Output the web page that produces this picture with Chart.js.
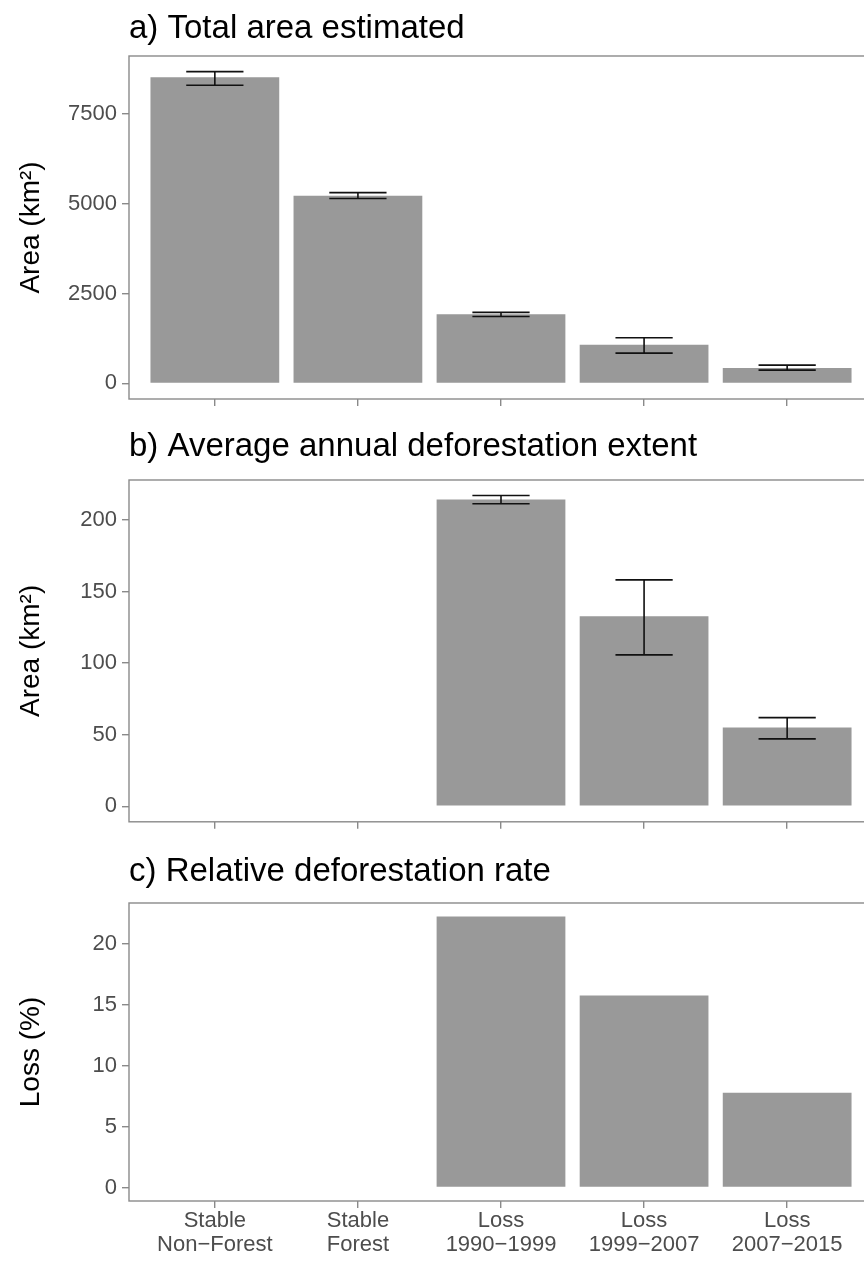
<!DOCTYPE html>
<html lang="en">
<head>
<meta charset="UTF-8">
<title>Deforestation estimates</title>
<script src="https://cdn.jsdelivr.net/npm/chart.js"></script>
<style>
  body { margin: 0; background: #fff; overflow: hidden; width: 864px; height: 1261px; position: relative; }
  canvas { position: absolute; left: 0; }
</style>
</head>
<body>
<canvas id="panelA" width="880" height="420" style="top:0px"></canvas>
<canvas id="panelB" width="880" height="420" style="top:420px"></canvas>
<canvas id="panelC" width="880" height="421" style="top:840px"></canvas>
<script>
// categories on the x axis (two-line labels)
const categories = [
    ["Stable", "Non\u2212Forest"],
    ["Stable", "Forest"],
    ["Loss", "1990\u22121999"],
    ["Loss", "1999\u22122007"],
    ["Loss", "2007\u22122015"]
];

// a) total area estimated (km2) with confidence limits
const totalArea = [8510, 5220, 1920, 1075, 425];
const totalLow  = [8290, 5140, 1860, 842, 370];
const totalHigh = [8670, 5305, 1975, 1269, 508];
const totalTicks = [0, 2500, 5000, 7500];

// b) average annual deforestation extent (km2)
const annualArea = [null, null, 214.4, 132.8, 55];
const annualLow  = [null, null, 211.4, 105.8, 47.1];
const annualHigh = [null, null, 217.1, 158.2, 61.9];
const annualTicks = [0, 50, 100, 150, 200];

// c) relative deforestation rate (%)
const relLoss = [null, null, 22.26, 15.77, 7.79];
const relTicks = [0, 5, 10, 15, 20];

Chart.defaults.font.family = "'Liberation Sans', Arial, sans-serif";

const frameColor = '#8a8a8a';

// grey border round the panel, like ggplot's theme
const panelFrame = {
    id: 'panelFrame',
    afterDraw(chart) {
        const a = chart.chartArea;
        const ctx = chart.ctx;
        ctx.save();
        ctx.strokeStyle = frameColor;
        ctx.lineWidth = 1.4;
        ctx.strokeRect(a.left, a.top, a.right - a.left, a.bottom - a.top);
        ctx.restore();
    }
};

// error bars drawn with the chart's own scales
const errorBars = {
    id: 'errorBars',
    afterDatasetsDraw(chart, args, opts) {
        if (!opts.low || !opts.high) return;
        const xs = chart.scales.x, ys = chart.scales.y;
        const ctx = chart.ctx;
        ctx.save();
        ctx.strokeStyle = '#111';
        ctx.lineWidth = 1.6;
        opts.low.forEach((lo, i) => {
            const hi = opts.high[i];
            if (lo == null || hi == null) return;
            const x = xs.getPixelForValue(i + 1);
            const half = xs.getPixelForValue(i + 1.2) - x;
            const yLo = ys.getPixelForValue(lo);
            const yHi = ys.getPixelForValue(hi);
            ctx.beginPath();
            ctx.moveTo(x - half, yHi); ctx.lineTo(x + half, yHi);
            ctx.moveTo(x - half, yLo); ctx.lineTo(x + half, yLo);
            ctx.moveTo(x, yHi); ctx.lineTo(x, yLo);
            ctx.stroke();
        });
        ctx.restore();
    }
};

function makePanel(id, cfg) {
    const points = cfg.values.map((v, i) => ({ x: i + 1, y: v }));
    const top = Math.max(...cfg.values.concat(cfg.high || []).filter(v => v != null));
    return new Chart(document.getElementById(id), {
        type: 'bar',
        data: {
            datasets: [{
                data: points,
                backgroundColor: '#999999',
                borderWidth: 0,
                barPercentage: 0.9,
                categoryPercentage: 1
            }]
        },
        options: {
            responsive: false,
            animation: false,
            layout: { padding: { left: 0, right: 7, top: 0, bottom: 0 } },
            plugins: {
                legend: { display: false },
                tooltip: { enabled: false },
                title: {
                    display: true,
                    text: cfg.title,
                    align: 'start',
                    fullSize: false,
                    color: '#000',
                    font: { size: 33, weight: 'normal', lineHeight: 1.2 },
                    padding: cfg.titlePad
                },
                errorBars: { low: cfg.low, high: cfg.high }
            },
            scales: {
                x: {
                    type: 'linear',
                    min: 0.4,
                    max: 5.6,
                    offset: false,
                    afterBuildTicks: s => { s.ticks = categories.map((c, i) => ({ value: i + 1 })); },
                    afterFit: s => { s.height = cfg.xHeight; },
                    grid: { offset: false, drawOnChartArea: false, drawTicks: true, tickLength: 7, color: frameColor, lineWidth: 1.4 },
                    border: { display: false },
                    ticks: {
                        display: cfg.showX,
                        color: '#4d4d4d',
                        padding: 1,
                        autoSkip: false,
                        maxRotation: 0,
                        font: { size: 22, lineHeight: 1.09 },
                        callback: v => categories[v - 1]
                    }
                },
                y: {
                    min: -0.05 * top,
                    max: 1.05 * top,
                    afterBuildTicks: s => { s.ticks = cfg.ticks.map(v => ({ value: v })); },
                    afterFit: s => { s.width = 129; },
                    grid: { drawOnChartArea: false, drawTicks: true, tickLength: 7, color: frameColor, lineWidth: 1.4 },
                    border: { display: false },
                    ticks: { color: '#4d4d4d', padding: 5, font: { size: 22 }, callback: v => String(v) },
                    title: {
                        display: true,
                        text: cfg.yTitle,
                        color: '#000',
                        font: { size: 28 },
                        padding: { top: 14, bottom: 0 }
                    }
                }
            }
        },
        plugins: [panelFrame, errorBars]
    });
}

makePanel('panelA', {
    title: 'a) Total area estimated',
    yTitle: 'Area (km\u00B2)',
    values: totalArea, low: totalLow, high: totalHigh, ticks: totalTicks,
    titlePad: { top: 9, bottom: 7.4 }, xHeight: 21, showX: false
});
makePanel('panelB', {
    title: 'b) Average annual deforestation extent',
    yTitle: 'Area (km\u00B2)',
    values: annualArea, low: annualLow, high: annualHigh, ticks: annualTicks,
    titlePad: { top: 7, bottom: 13.4 }, xHeight: 17, showX: false
});
makePanel('panelC', {
    title: 'c) Relative deforestation rate',
    yTitle: 'Loss (%)',
    values: relLoss, ticks: relTicks,
    titlePad: { top: 12, bottom: 11.4 }, xHeight: 60, showX: true
});
</script>
</body>
</html>
